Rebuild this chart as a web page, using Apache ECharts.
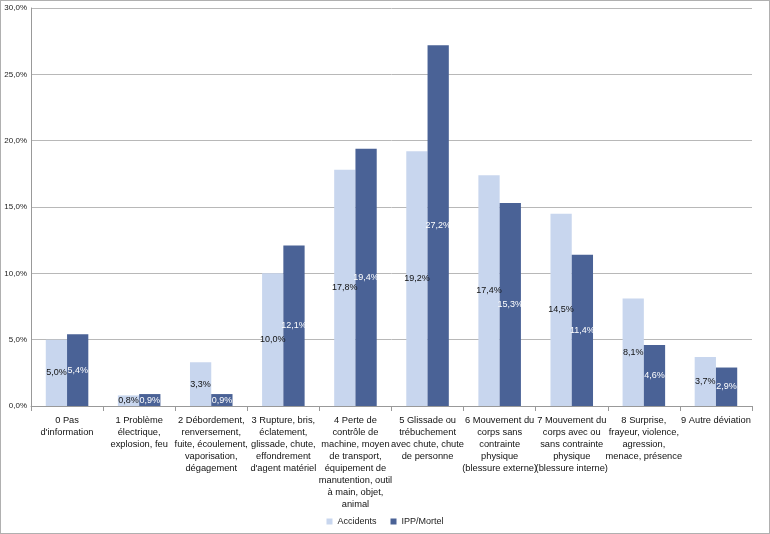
<!DOCTYPE html>
<html><head><meta charset="utf-8">
<script src="https://cdn.jsdelivr.net/npm/echarts@6/dist/echarts.min.js"></script>
<style>
html,body{margin:0;padding:0;background:#fff;}
#c{width:768px;height:532px;border:1px solid #b0b0b0;}
</style></head>
<body><div id="c"></div>
<script>
const categories = [
  "0 Pas\nd'information",
  "1 Problème\nélectrique,\nexplosion, feu",
  "2 Débordement,\nrenversement,\nfuite, écoulement,\nvaporisation,\ndégagement",
  "3 Rupture, bris,\néclatement,\nglissade, chute,\neffondrement\nd'agent matériel",
  "4 Perte de\ncontrôle de\nmachine, moyen\nde transport,\néquipement de\nmanutention, outil\nà main, objet,\nanimal",
  "5 Glissade ou\ntrébuchement\navec chute, chute\nde personne",
  "6 Mouvement du\ncorps sans\ncontrainte\nphysique\n(blessure externe)",
  "7 Mouvement du\ncorps avec ou\nsans contrainte\nphysique\n(blessure interne)",
  "8 Surprise,\nfrayeur, violence,\nagression,\nmenace, présence",
  "9 Autre déviation"
];
const accidents = [5.0, 0.8, 3.3, 10.0, 17.8, 19.2, 17.4, 14.5, 8.1, 3.7];
const ippMortel = [5.4, 0.9, 0.9, 12.1, 19.4, 27.2, 15.3, 11.4, 4.6, 2.9];
const seriesNames = ["Accidents", "IPP/Mortel"];

const fmt = v => v.toFixed(1).replace('.', ',') + '%';
const FF = 'Liberation Sans, Arial, sans-serif';
const chart = echarts.init(document.getElementById('c'));
chart.setOption({
  animation: false,
  textStyle: {fontFamily: FF},
  grid: {left: 30, right: 17, top: 7, bottom: 127, containLabel: false},
  legend: {
    bottom: 2, left: 'center', itemWidth: 6, itemHeight: 6, itemGap: 14,
    icon: 'rect',
    textStyle: {fontSize: 9, color: '#222', fontFamily: FF},
    data: seriesNames
  },
  xAxis: {
    type: 'category', data: categories,
    axisLine: {lineStyle: {color: '#999'}},
    axisTick: {show: true, length: 5, lineStyle: {color: '#999'}},
    axisLabel: {interval: 0, fontSize: 9.3, color: '#111', lineHeight: 12.1, margin: 8, fontFamily: FF}
  },
  yAxis: {
    type: 'value', min: 0, max: 30, interval: 5,
    axisLine: {show: true, lineStyle: {color: '#999'}},
    axisTick: {show: false},
    splitLine: {lineStyle: {color: '#b8b8b8'}},
    axisLabel: {fontSize: 8, color: '#222', margin: 4, formatter: v => v.toFixed(1).replace('.', ',') + '%'}
  },
  series: [
    {name: seriesNames[0], type: 'bar', data: accidents, barGap: '0%', barCategoryGap: '41%',
     itemStyle: {color: '#c8d6ee'},
     label: {show: true, position: 'inside', fontSize: 9, color: '#111', formatter: p => fmt(p.value)}},
    {name: seriesNames[1], type: 'bar', data: ippMortel, barGap: '0%', barCategoryGap: '41%',
     itemStyle: {color: '#4a6296'},
     label: {show: true, position: 'inside', fontSize: 9, color: '#fff', formatter: p => fmt(p.value)}}
  ]
});
</script></body></html>
